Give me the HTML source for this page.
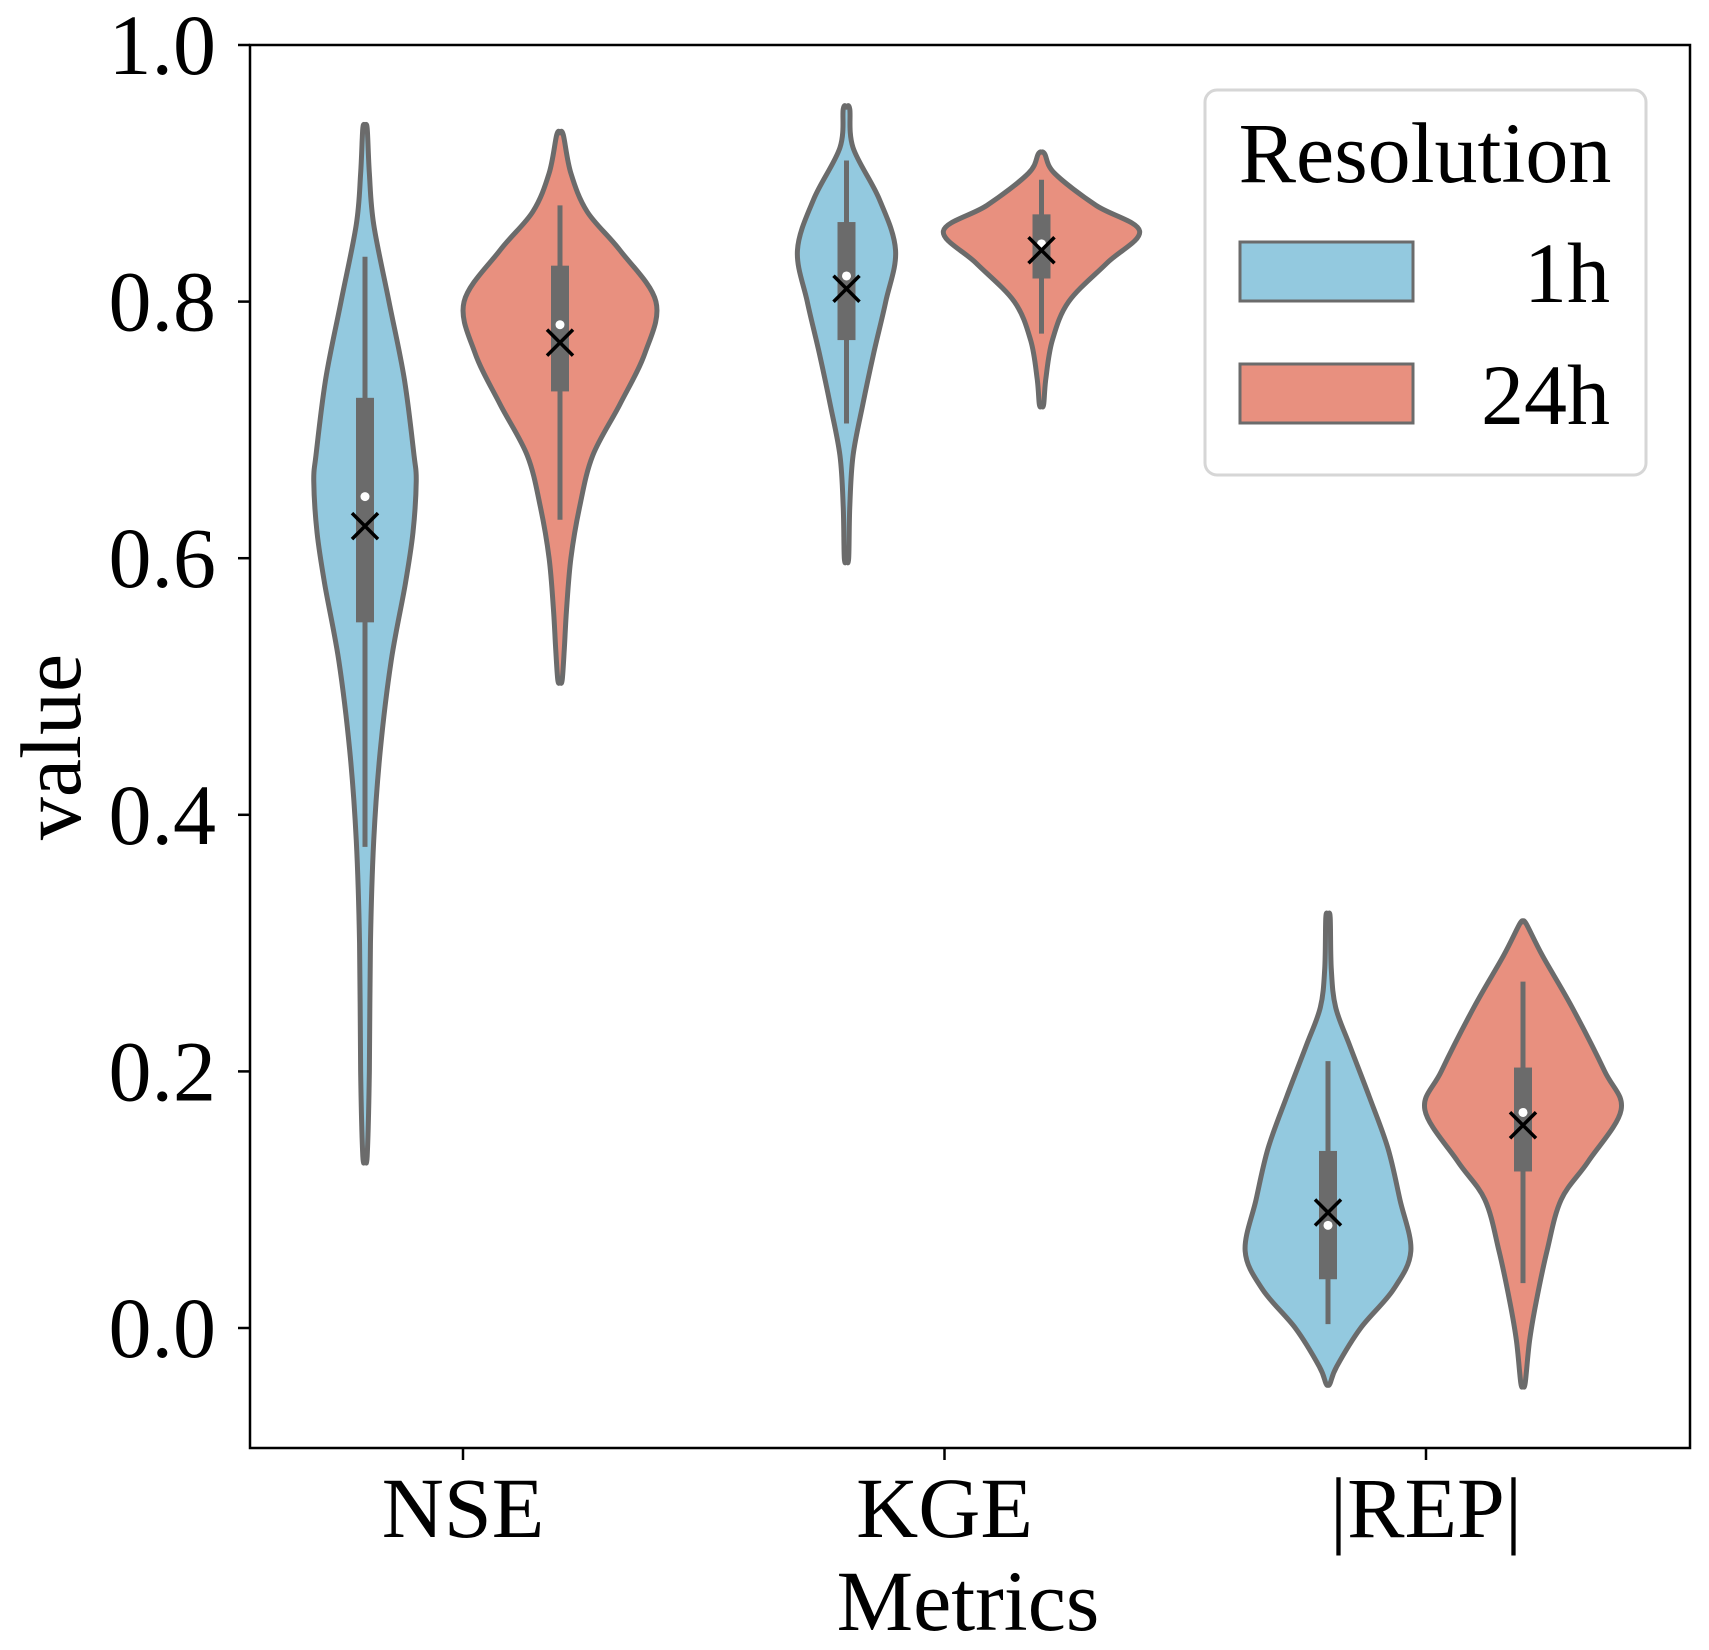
<!DOCTYPE html>
<html><head><meta charset="utf-8"><style>
html,body{margin:0;padding:0;background:#fff;}
svg{display:block;font-family:"Liberation Serif","DejaVu Serif",serif;}
</style></head><body>
<svg id="chart" width="1709" height="1650" viewBox="0 0 1709 1650"></svg>
<script>
const categories = ["NSE","KGE","|REP|"];
const seriesNames = ["1h","24h"];
const yTicks = [0.0,0.2,0.4,0.6,0.8,1.0];
const yTickLabels = ["0.0","0.2","0.4","0.6","0.8","1.0"];
// density profiles: values and relative half widths
const profVals = [
  [[0.935,0.9,0.86,0.8,0.74,0.68,0.66,0.62,0.58,0.52,0.45,0.38,0.3,0.2,0.134],
   [0.93,0.9,0.87,0.84,0.8,0.76,0.72,0.68,0.64,0.6,0.56,0.53,0.505]],
  [[0.95,0.92,0.88,0.84,0.8,0.76,0.72,0.68,0.64,0.6],
   [0.915,0.9,0.875,0.855,0.83,0.8,0.77,0.74,0.72]],
  [[0.32,0.28,0.25,0.22,0.18,0.14,0.1,0.06,0.03,0.0,-0.03,-0.043],
   [0.315,0.29,0.25,0.2,0.17,0.13,0.1,0.06,0.02,-0.01,-0.043]]
];
const profWidths = [
  [[2,4,8,22,36,45,47,44,37,24,14,8,5,4,2],
   [3,10,25,55,88,78,55,30,18,10,6,4,2]],
  [[3,6,30,45,36,25,15,6,3,2],
   [3,12,50,90,60,25,10,4,2]],
  [[2,3,7,20,38,55,66,76,60,30,8,2],
   [3,18,45,75,90,60,35,22,12,6,2]]
];
const q1s = [[0.55,0.73],[0.77,0.818],[0.038,0.122]];
const q3s = [[0.725,0.828],[0.862,0.868],[0.138,0.203]];
const whiskLo = [[0.375,0.63],[0.705,0.775],[0.003,0.035]];
const whiskHi = [[0.835,0.875],[0.91,0.895],[0.208,0.27]];
const medians = [[0.648,0.782],[0.82,0.845],[0.08,0.168]];
const means = [[0.625,0.768],[0.81,0.84],[0.09,0.158]];

const NS="http://www.w3.org/2000/svg";
const svg=document.getElementById('chart');
const L=250,R=1690,T=45,B=1448;
const y0=1328, pxPerUnit=(1328-45)/1.0;
function yS(v){return y0 - v*pxPerUnit;}
function xS(ci,si){return 463 + ci*481.5 + (si===0?-98:97);}
const wScale=1.09;
const colors=["#93c9df","#e8907f"];
function el(tag,attrs,parent){const e=document.createElementNS(NS,tag);for(const k in attrs)e.setAttribute(k,attrs[k]);(parent||svg).appendChild(e);return e;}
function smooth(pts){let d="M"+pts[0][0]+","+pts[0][1];
  for(let i=0;i<pts.length-1;i++){const p0=pts[Math.max(0,i-1)],p1=pts[i],p2=pts[i+1],p3=pts[Math.min(pts.length-1,i+2)];
    const c1=[p1[0]+(p2[0]-p0[0])/6,p1[1]+(p2[1]-p0[1])/6],c2=[p2[0]-(p3[0]-p1[0])/6,p2[1]-(p3[1]-p1[1])/6];
    d+=" C"+c1[0]+","+c1[1]+" "+c2[0]+","+c2[1]+" "+p2[0]+","+p2[1];}
  return d;}

for(let ci=0;ci<categories.length;ci++){for(let si=0;si<2;si++){
  const cx=xS(ci,si),vals=profVals[ci][si],ws=profWidths[ci][si];
  const right=vals.map((v,i)=>[cx+ws[i]*wScale,yS(v)]);
  const left=vals.map((v,i)=>[cx-ws[i]*wScale,yS(v)]).reverse();
  const top=[cx,yS(vals[0])-2],bot=[cx,yS(vals[vals.length-1])+2];
  const pts=[top,...right,bot,...left,top];
  const g=el('g',{});
  
  
  el('path',{d:smooth(pts)+"Z",fill:colors[si],stroke:"#6b6b6b","stroke-width":5,"stroke-linejoin":"round"},g);
  el('line',{x1:cx,x2:cx,y1:yS(whiskLo[ci][si]),y2:yS(whiskHi[ci][si]),stroke:"#6b6b6b","stroke-width":5},g);
  el('rect',{x:cx-9,y:yS(q3s[ci][si]),width:18,height:yS(q1s[ci][si])-yS(q3s[ci][si]),fill:"#6b6b6b"},g);
  el('circle',{cx:cx,cy:yS(medians[ci][si]),r:4.5,fill:"#fff"},g);
  const my=yS(means[ci][si]),s=13;
  el('path',{d:`M${cx-s},${my-s}L${cx+s},${my+s}M${cx-s},${my+s}L${cx+s},${my-s}`,stroke:"#000","stroke-width":3.5},g);
}}
// axes frame
const frame=el('rect',{x:L,y:T,width:R-L,height:B-T,fill:"none",stroke:"#000","stroke-width":2.5});


yTicks.forEach((v,i)=>{const y=yS(v);
  el('line',{x1:L-12,x2:L,y1:y,y2:y,stroke:"#000","stroke-width":2.5});
  const t=el('text',{x:216,y:y+29,"text-anchor":"end","font-size":86});t.textContent=yTickLabels[i];
  
  
});
categories.forEach((c,ci)=>{const x=463+ci*481.5;
  el('line',{x1:x,x2:x,y1:B,y2:B+12,stroke:"#000","stroke-width":2.5});
  const t=el('text',{x:x,y:1537,"text-anchor":"middle","font-size":86});t.textContent=c;
  
  
});
const yl=el('text',{x:0,y:0,"text-anchor":"middle","font-size":86,transform:"translate(80,747) rotate(-90)"});yl.textContent="value";


const xl=el('text',{x:968,y:1630,"text-anchor":"middle","font-size":86});xl.textContent="Metrics";


// legend
const lg=el('g',{});


el('rect',{x:1205,y:90,width:441,height:385,rx:12,fill:"#fff",stroke:"#d6d6d6","stroke-width":3},lg);
const lt=el('text',{x:1425,y:182,"text-anchor":"middle","font-size":86},lg);lt.textContent="Resolution";
seriesNames.forEach((n,si)=>{const py=si===0?242:364;
  const r=el('rect',{x:1240,y:py,width:173,height:59,fill:colors[si],stroke:"#6b6b6b","stroke-width":3},lg);
  
  
  const t=el('text',{x:1610,y:py+60,"text-anchor":"end","font-size":86},lg);t.textContent=n;
});
</script>
</body></html>
